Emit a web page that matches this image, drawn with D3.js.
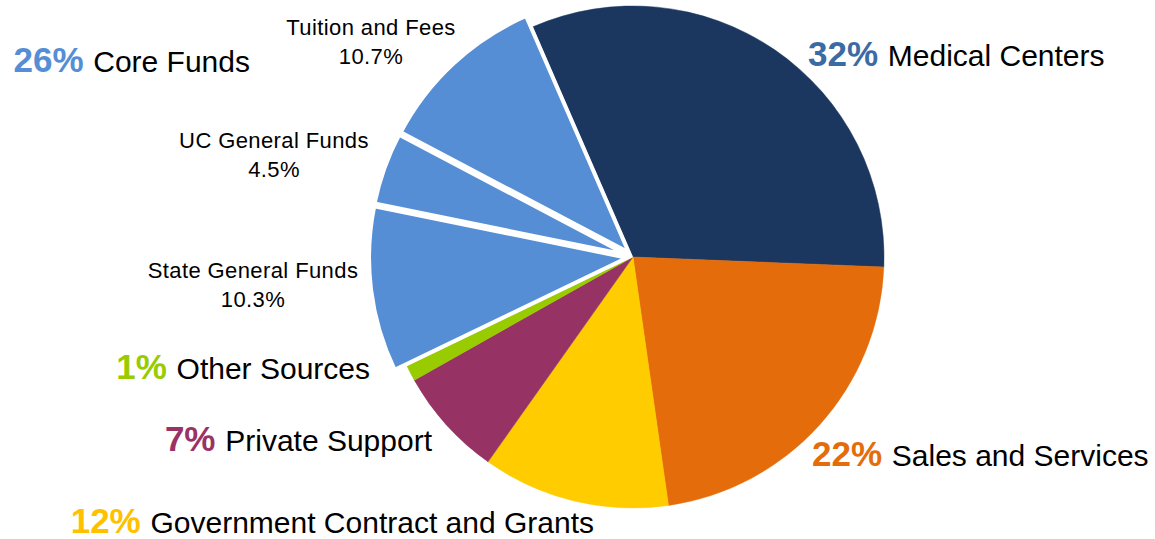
<!DOCTYPE html>
<html lang="en">
<head>
<meta charset="utf-8">
<title>Sources of Revenue</title>
<script src="https://d3js.org/d3.v7.min.js"></script>
<style>
  body { margin: 0; background: #fff; }
  text { font-family: "Liberation Sans", Arial, sans-serif; }
</style>
</head>
<body>
<script>
// slice data, clockwise from the top
var names  = ["Medical Centers", "Sales and Services", "Government Contract and Grants",
              "Private Support", "Other Sources", "State General Funds",
              "UC General Funds", "Tuition and Fees"];
var values = [32, 22, 12, 7, 1, 10.3, 4.5, 10.7];
var colors = ["#1b375f", "#e46c0a", "#ffcc00", "#963264", "#99cc00", "#558ed5", "#558ed5", "#558ed5"];
var core   = [false, false, false, false, false, true, true, true];

// big labels: percent + name
var bigPct    = ["32%", "22%", "12%", "7%", "1%", "26%"];
var bigName   = ["Medical Centers", "Sales and Services", "Government Contract and Grants",
                 "Private Support", "Other Sources", "Core Funds"];
var bigColor  = ["#3b6ba5", "#e46c0a", "#ffc000", "#993366", "#99cc00", "#558ed5"];

// small labels for core fund slices
var subName = ["State General Funds", "UC General Funds", "Tuition and Fees"];
var subPct  = ["10.3%", "4.5%", "10.7%"];

var width = 1155, height = 539;
var cx = 633, cy = 257, r = 251;

var svg = d3.select("body").append("svg")
    .attr("width", width)
    .attr("height", height);

var start = -23.5 * Math.PI / 180;
var pie = d3.pie().sort(null).startAngle(start).endAngle(start + 2 * Math.PI);
var arcs = pie(values);

var arc = d3.arc().innerRadius(0).outerRadius(r);
var arcCore = d3.arc().innerRadius(0).outerRadius(258);

var g = svg.append("g").attr("transform", "translate(" + cx + "," + cy + ")");

// normal slices first
g.selectAll("path.main")
  .data(arcs.filter(function(d, i) { return !core[i]; }))
  .enter().append("path")
    .attr("class", "main")
    .attr("d", arc)
    .attr("fill", function(d) { return colors[d.index]; })
    .attr("stroke", function(d) { return colors[d.index]; })
    .attr("stroke-width", 0.5);

// exploded core fund slices with white border
g.selectAll("path.core")
  .data(arcs.filter(function(d, i) { return core[i]; }))
  .enter().append("path")
    .attr("class", "core")
    .attr("d", arcCore)
    .attr("transform", function(d) {
      var a = (d.startAngle + d.endAngle) / 2, off = 6;
      return "translate(" + (off * Math.sin(a)) + "," + (-off * Math.cos(a)) + ")";
    })
    .attr("fill", function(d) { return colors[d.index]; })
    .attr("stroke", "#fff")
    .attr("stroke-width", 4)
    .attr("stroke-linejoin", "miter");

// big labels
var bigPos = [
  {x: 808, y: 66, anchor: "start"},
  {x: 812, y: 466, anchor: "start"},
  {x: 594, y: 533, anchor: "end"},
  {x: 432, y: 451, anchor: "end"},
  {x: 370, y: 379, anchor: "end"},
  {x: 250, y: 72, anchor: "end"}
];

bigPct.forEach(function(p, i) {
  var t = svg.append("text")
    .attr("x", bigPos[i].x)
    .attr("y", bigPos[i].y)
    .attr("text-anchor", bigPos[i].anchor)
    .attr("font-size", 30)
    .attr("fill", "#000");
  t.append("tspan")
    .attr("font-weight", "bold")
    .attr("font-size", 35)
    .attr("fill", bigColor[i])
    .text(p + " ");
  t.append("tspan").text(bigName[i]);
});

// small labels
var subPos = [
  {x: 253, y: 278},
  {x: 274, y: 148},
  {x: 371, y: 35}
];

subName.forEach(function(n, i) {
  var t = svg.append("text")
    .attr("x", subPos[i].x)
    .attr("y", subPos[i].y)
    .attr("text-anchor", "middle")
    .attr("font-size", 22)
    .attr("letter-spacing", 0.4)
    .attr("fill", "#000");
  t.append("tspan").attr("x", subPos[i].x).text(n);
  t.append("tspan").attr("x", subPos[i].x).attr("dy", 29).text(subPct[i]);
});
</script>
</body>
</html>
